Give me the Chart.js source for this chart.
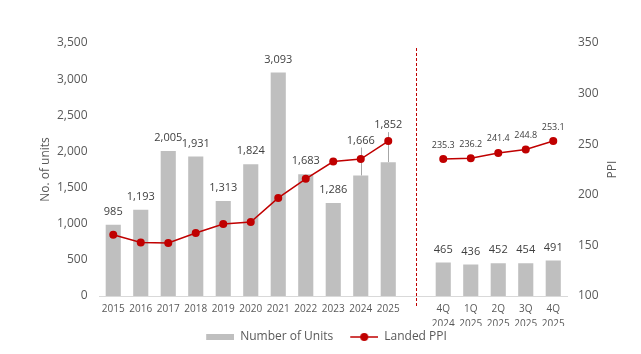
<!DOCTYPE html>
<html>
<head>
<meta charset="utf-8">
<script src="https://cdn.jsdelivr.net/npm/chart.js@4.4.1/dist/chart.umd.min.js"></script>
<style>
    html, body { margin: 0; padding: 0; background: #fff; }
    canvas { display: block; }
</style>
</head>
<body>
<canvas id="chart" width="641" height="354"></canvas>
<script>
// annual + quarterly figures
var years = ['2015', '2016', '2017', '2018', '2019', '2020', '2021', '2022', '2023', '2024', '2025'];
var quarters = [['4Q', '2024'], ['1Q', '2025'], ['2Q', '2025'], ['3Q', '2025'], ['4Q', '2025']];
var yearUnits = [985, 1193, 2005, 1931, 1313, 1824, 3093, 1683, 1286, 1666, 1852];
var quarterUnits = [465, 436, 452, 454, 491];
var yearPPI = [160.5, 152.9, 152.3, 162.2, 171.1, 173.1, 196.9, 215.8, 232.9, 235.3, 253.1];
var quarterPPI = [235.3, 236.2, 241.4, 244.8, 253.1];
var unitTicks = [0, 500, 1000, 1500, 2000, 2500, 3000, 3500];
var ppiTicks = [100, 150, 200, 250, 300, 350];

var gapIndex = years.length;  // empty slot between the two parts
var labels = years.concat([''], quarters);
var units = yearUnits.concat([null], quarterUnits);
var ppi = yearPPI.concat([null], quarterPPI);

var TEXT = '#595959';
var BAR = '#BFBFBF';
var RED = '#C00000';

Chart.defaults.font.family = "'Open Sans', sans-serif";
Chart.defaults.color = TEXT;

// legend swatches, drawn at the right of a 40px wide box so items sit further apart
function swatch(kind) {
    var c = document.createElement('canvas');
    c.width = 40;
    c.height = 10;
    var g = c.getContext('2d');
    if (kind === 'bar') {
        g.fillStyle = BAR;
        g.fillRect(12, 2, 28, 6);
    } else {
        g.strokeStyle = RED;
        g.lineWidth = 1.5;
        g.beginPath();
        g.moveTo(12, 5);
        g.lineTo(40, 5);
        g.stroke();
        g.fillStyle = RED;
        g.beginPath();
        g.arc(26, 5, 4, 0, Math.PI * 2);
        g.fill();
    }
    return c;
}
var barSwatch = swatch('bar');
var lineSwatch = swatch('line');

// labels that are lifted above the line, with a leader line down to the bar
var lifted = {9: 22, 10: 24};

var extras = {
    id: 'extras',
    beforeDatasetsDraw: function (chart) {
        var ctx = chart.ctx;
        var bars = chart.getDatasetMeta(0).data;
        ctx.save();
        ctx.strokeStyle = '#A6A6A6';
        ctx.lineWidth = 1;
        Object.keys(lifted).forEach(function (i) {
            var b = bars[i];
            var top = b.y - 13 - lifted[i] + 7;
            ctx.beginPath();
            ctx.moveTo(Math.round(b.x) + 0.5, b.y);
            ctx.lineTo(Math.round(b.x) + 0.5, top);
            ctx.stroke();
        });
        ctx.restore();
    },
    afterDatasetsDraw: function (chart) {
        var ctx = chart.ctx;
        var area = chart.chartArea;
        var x = chart.scales.x;
        ctx.save();

        // dashed divider
        var dx = Math.round(x.getPixelForValue(gapIndex)) + 0.5;
        ctx.strokeStyle = RED;
        ctx.lineWidth = 1;
        ctx.setLineDash([3, 2]);
        ctx.beginPath();
        ctx.moveTo(dx, area.top + 5);
        ctx.lineTo(dx, area.bottom + 12);
        ctx.stroke();
        ctx.setLineDash([]);

        // bar values
        ctx.fillStyle = '#404040';
        ctx.textAlign = 'center';
        ctx.textBaseline = 'middle';
        ctx.font = "11px 'Open Sans', sans-serif";
        chart.getDatasetMeta(0).data.forEach(function (b, i) {
            if (units[i] == null) return;
            var y = b.y - 13 - (lifted[i] || 0);
            ctx.fillText(units[i].toLocaleString('en-US'), b.x, y);
        });

        // PPI values, quarterly part only
        ctx.font = "9px 'Open Sans', sans-serif";
        chart.getDatasetMeta(1).data.forEach(function (p, i) {
            if (i <= gapIndex || ppi[i] == null) return;
            ctx.fillText(ppi[i].toFixed(1), p.x, p.y - 14);
        });

        ctx.restore();
    },
    afterDraw: function (chart) {
        var ctx = chart.ctx;
        var area = chart.chartArea;
        var midY = (area.top + area.bottom) / 2;
        ctx.save();
        ctx.fillStyle = TEXT;
        ctx.font = "12px 'Open Sans', sans-serif";
        ctx.textAlign = 'center';
        ctx.textBaseline = 'middle';
        ctx.translate(area.left - 54, midY);
        ctx.rotate(-Math.PI / 2);
        ctx.fillText('No. of units', 0, 0);
        ctx.restore();

        ctx.save();
        ctx.fillStyle = TEXT;
        ctx.font = "12px 'Open Sans', sans-serif";
        ctx.textAlign = 'center';
        ctx.textBaseline = 'middle';
        ctx.translate(area.right + 46, midY);
        ctx.rotate(-Math.PI / 2);
        ctx.fillText('PPI', 0, 0);
        ctx.restore();
    }
};

new Chart(document.getElementById('chart'), {
    type: 'bar',
    data: {
        labels: labels,
        datasets: [{
            label: 'Number of Units',
            data: units,
            backgroundColor: BAR,
            yAxisID: 'y',
            categoryPercentage: 1,
            barPercentage: 0.55,
            order: 1
        }, {
            type: 'line',
            label: 'Landed PPI',
            data: ppi,
            yAxisID: 'y1',
            borderColor: RED,
            backgroundColor: RED,
            borderWidth: 1.5,
            pointRadius: 4,
            pointBorderWidth: 0,
            spanGaps: false,
            order: 0
        }]
    },
    options: {
        responsive: false,
        animation: false,
        layout: {padding: {top: 43, bottom: 1, left: 0, right: 0}},
        plugins: {
            tooltip: {enabled: false},
            legend: {
                position: 'bottom',
                labels: {
                    usePointStyle: true,
                    pointStyleWidth: 40,
                    padding: 5,
                    font: {size: 12},
                    color: TEXT,
                    sort: function (a, b) { return a.datasetIndex - b.datasetIndex; },
                    generateLabels: function (chart) {
                        var items = Chart.defaults.plugins.legend.labels.generateLabels(chart);
                        items.forEach(function (it) {
                            it.pointStyle = it.datasetIndex === 0 ? barSwatch : lineSwatch;
                        });
                        return items;
                    }
                }
            }
        },
        scales: {
            x: {
                offset: true,
                grid: {display: false, drawTicks: false},
                border: {color: '#D9D9D9'},
                ticks: {autoSkip: false, maxRotation: 0, padding: 6, color: TEXT, font: {size: 10, lineHeight: 1.45}},
                afterFit: function (s) { s.height = 30; }
            },
            y: {
                position: 'left',
                min: 0,
                max: 3500,
                grid: {display: false, drawTicks: false},
                border: {display: false},
                ticks: {padding: 12, color: TEXT, font: {size: 12}, callback: function (v) { return v.toLocaleString('en-US'); }},
                afterBuildTicks: function (s) { s.ticks = unitTicks.map(function (v) { return {value: v}; }); },
                afterFit: function (s) { s.width = 99.5; }
            },
            y1: {
                position: 'right',
                min: 100,
                max: 350,
                grid: {display: false, drawTicks: false},
                border: {display: false},
                ticks: {padding: 11, color: TEXT, font: {size: 12}},
                afterBuildTicks: function (s) { s.ticks = ppiTicks.map(function (v) { return {value: v}; }); },
                afterFit: function (s) { s.width = 74; }
            }
        }
    },
    plugins: [extras]
});
</script>
</body>
</html>
